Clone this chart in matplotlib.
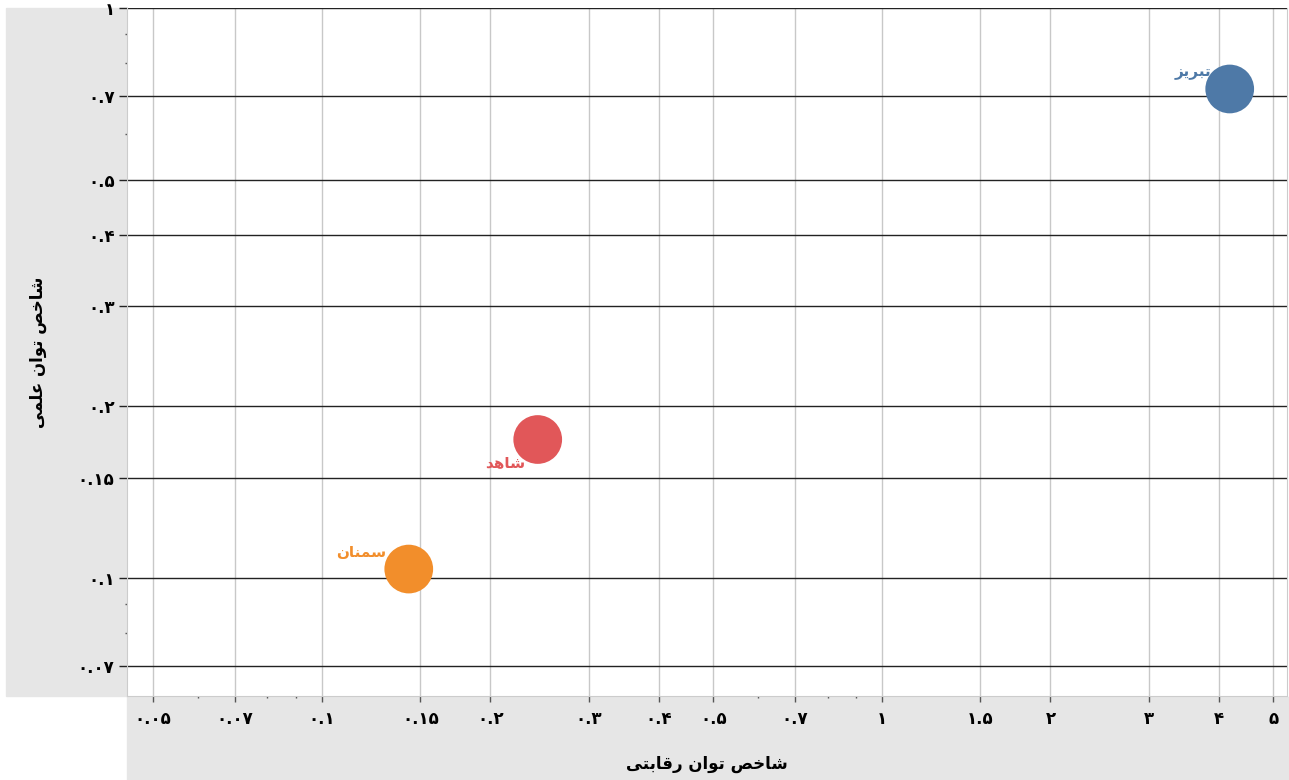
import matplotlib
matplotlib.use("Agg")
import matplotlib.pyplot as plt
from matplotlib.patches import Rectangle
from matplotlib.ticker import FixedLocator, FixedFormatter, NullFormatter

# داده‌ها
universities = ["تبریز", "شاهد", "سمنان"]
rival_index = [4.18, 0.243, 0.143]      # شاخص توان رقابتی
science_index = [0.721, 0.175, 0.1037]  # شاخص توان علمی
colors = ["#4e79a7", "#e15759", "#f28e2b"]

x_ticks = [0.05, 0.07, 0.1, 0.15, 0.2, 0.3, 0.4, 0.5, 0.7, 1, 1.5, 2, 3, 4, 5]
y_ticks = [0.07, 0.1, 0.15, 0.2, 0.3, 0.4, 0.5, 0.7, 1]
x_minor = [0.06, 0.08, 0.09, 0.6, 0.8, 0.9]
y_minor = [0.08, 0.09, 0.6, 0.8, 0.9]

x_title = "شاخص توان رقابتی"
y_title = "شاخص توان علمی"

# شکل‌دهی ساده‌ی حروف فارسی (matplotlib خودش این کار را نمی‌کند)
FORMS = {
    "ا": ("\uFE8D", "\uFE8E", None, None),
    "ب": ("\uFE8F", "\uFE90", "\uFE91", "\uFE92"),
    "ت": ("\uFE95", "\uFE96", "\uFE97", "\uFE98"),
    "خ": ("\uFEA5", "\uFEA6", "\uFEA7", "\uFEA8"),
    "د": ("\uFEA9", "\uFEAA", None, None),
    "ر": ("\uFEAD", "\uFEAE", None, None),
    "ز": ("\uFEAF", "\uFEB0", None, None),
    "س": ("\uFEB1", "\uFEB2", "\uFEB3", "\uFEB4"),
    "ش": ("\uFEB5", "\uFEB6", "\uFEB7", "\uFEB8"),
    "ص": ("\uFEB9", "\uFEBA", "\uFEBB", "\uFEBC"),
    "ع": ("\uFEC9", "\uFECA", "\uFECB", "\uFECC"),
    "ق": ("\uFED5", "\uFED6", "\uFED7", "\uFED8"),
    "ل": ("\uFEDD", "\uFEDE", "\uFEDF", "\uFEE0"),
    "م": ("\uFEE1", "\uFEE2", "\uFEE3", "\uFEE4"),
    "ن": ("\uFEE5", "\uFEE6", "\uFEE7", "\uFEE8"),
    "ه": ("\uFEE9", "\uFEEA", "\uFEEB", "\uFEEC"),
    "و": ("\uFEED", "\uFEEE", None, None),
    "ی": ("\uFBFC", "\uFBFD", "\uFBFE", "\uFBFF"),
}


def shape(text):
    out = []
    for i, ch in enumerate(text):
        if ch not in FORMS:
            out.append(ch)
            continue
        prev = text[i - 1] if i > 0 else ""
        nxt = text[i + 1] if i + 1 < len(text) else ""
        join_prev = prev in FORMS and FORMS[prev][2] is not None
        join_next = nxt in FORMS and FORMS[ch][2] is not None
        iso, fin, ini, med = FORMS[ch]
        if join_prev and join_next:
            out.append(med)
        elif join_prev:
            out.append(fin)
        elif join_next:
            out.append(ini)
        else:
            out.append(iso)
    return "".join(out)[::-1]


def fa_num(v):
    s = ("%g" % v)
    return s.translate(str.maketrans("0123456789", "۰۱۲۳۴۵۶۷۸۹"))


fig = plt.figure(figsize=(12.89, 7.8), dpi=100)
W, H = 1289, 780

# پنل‌های خاکستری محورها
fig.patches.append(Rectangle((6 / W, (H - 696) / H), 121 / W, 688 / H,
                             transform=fig.transFigure, color="#e6e6e6", zorder=-10))
fig.patches.append(Rectangle((127 / W, 0), 1162 / W, (H - 697) / H,
                             transform=fig.transFigure, color="#e6e6e6", zorder=-10))

ax = fig.add_axes([127 / W, (H - 696) / H, 1160 / W, 688 / H])
ax.set_xscale("log")
ax.set_yscale("log")
ax.set_xlim(0.0449, 5.29)
ax.set_ylim(0.0621, 1.0)

for x, y, c in zip(rival_index, science_index, colors):
    ax.scatter(x, y, s=1230, color=c, edgecolors="none", zorder=3)

offsets = [(-13, 12), (-9, -17), (-16, 12)]
for x, y, c, name, off in zip(rival_index, science_index, colors, universities, offsets):
    ax.annotate(shape(name), (x, y), xytext=off, textcoords="offset points",
                ha="right", va="center", color=c, fontsize=11, fontweight="bold",
                zorder=4)

ax.xaxis.set_major_locator(FixedLocator(x_ticks))
ax.xaxis.set_major_formatter(FixedFormatter([fa_num(v) for v in x_ticks]))
ax.yaxis.set_major_locator(FixedLocator(y_ticks))
ax.yaxis.set_major_formatter(FixedFormatter([fa_num(v) for v in y_ticks]))
ax.xaxis.set_minor_locator(FixedLocator(x_minor))
ax.yaxis.set_minor_locator(FixedLocator(y_minor))
ax.xaxis.set_minor_formatter(NullFormatter())
ax.yaxis.set_minor_formatter(NullFormatter())

ax.grid(axis="x", which="major", color="#c8c8c8", linewidth=1)
ax.grid(axis="y", which="major", color="#222222", linewidth=1)
ax.set_axisbelow(True)

ax.tick_params(axis="x", which="major", length=4, width=1, color="#555555",
               labelsize=12, pad=6)
ax.tick_params(axis="y", which="major", length=6, width=1, color="#222222",
               labelsize=12, pad=3)
ax.tick_params(which="minor", length=1.5, width=1, color="#555555")
for lbl in ax.get_xticklabels() + ax.get_yticklabels():
    lbl.set_fontweight("bold")

for sp in ["left", "bottom", "right"]:
    ax.spines[sp].set_color("#cccccc")
ax.spines["top"].set_visible(False)

fig.text(707 / W, 1 - 764 / H, shape(x_title), ha="center", va="center",
         fontsize=12, fontweight="bold")
fig.text(38 / W, 1 - 352 / H, shape(y_title), ha="center", va="center",
         rotation=90, fontsize=12, fontweight="bold")

fig.savefig("out.png", dpi=100)
